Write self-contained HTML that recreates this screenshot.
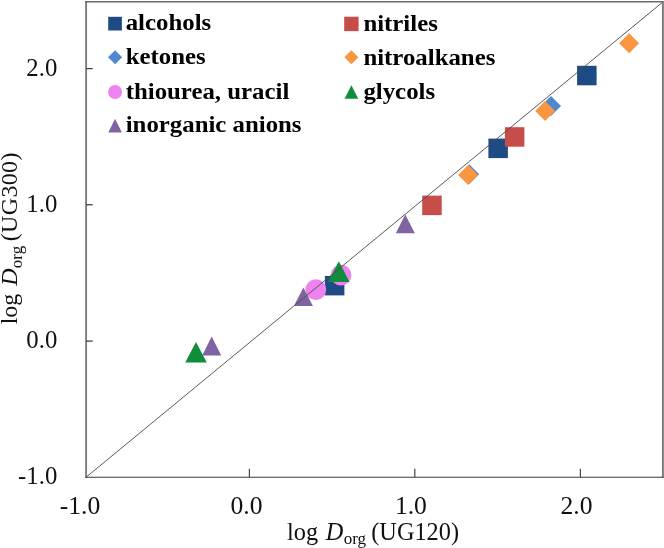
<!DOCTYPE html>
<html><head><meta charset="utf-8"><title>chart</title>
<style>
html,body{margin:0;padding:0;background:#fff;}
body{width:664px;height:548px;overflow:hidden;}
svg{display:block;}
#all{filter:blur(0.45px);}
text{font-family:"Liberation Serif",serif;fill:#111;}
.tk{font-size:24.75px;}
.tkx{font-size:25.6px;}
.tt{font-size:24.3px;}
.sub{font-size:17px;}
.lg{font-size:23.5px;font-weight:bold;fill:#000;}
</style></head>
<body>
<svg width="664" height="548" viewBox="0 0 664 548">
<rect width="664" height="548" fill="#ffffff"/>
<g id="all">
<g id="markers">
<rect x="324.9" y="275.9" width="19.5" height="19.5" fill="#1f4b84"/>
<rect x="488.4" y="138.6" width="19.5" height="19.5" fill="#1f4b84"/>
<rect x="577.1" y="65.8" width="19.5" height="19.5" fill="#1f4b84"/>
<rect x="422.2" y="195.6" width="19.5" height="19.5" fill="#c64d4a"/>
<rect x="504.9" y="127.2" width="19.5" height="19.5" fill="#c64d4a"/>
<polygon points="469.2,164.2 479.2,174.2 469.2,184.2 459.2,174.2" fill="#4f88d0"/>
<polygon points="551.0,96.0 561.0,106.0 551.0,116.0 541.0,106.0" fill="#4f88d0"/>
<polygon points="468.2,165.1 478.2,175.1 468.2,185.1 458.2,175.1" fill="#fa9642"/>
<polygon points="545.1,101.1 555.1,111.1 545.1,121.1 535.1,111.1" fill="#fa9642"/>
<polygon points="629.1,33.2 639.1,43.2 629.1,53.2 619.1,43.2" fill="#fa9642"/>
<circle cx="315.8" cy="289.7" r="10.4" fill="#ee82ee"/>
<circle cx="341.0" cy="275.2" r="10.4" fill="#ee82ee"/>
<polygon points="211.7,336.5 221.2,355.6 202.2,355.6" fill="#8064a2"/>
<polygon points="303.4,287.5 312.9,306.1 293.9,306.1" fill="#8064a2"/>
<polygon points="405.3,214.4 414.8,233.3 395.8,233.3" fill="#8064a2"/>
<polygon points="196.0,341.9 206.8,362.4 185.2,362.4" fill="#0f8c3c"/>
<polygon points="338.8,261.3 349.6,282.0 328.1,282.0" fill="#0f8c3c"/>
</g>
<g id="diag"><line x1="86.1" y1="477.2" x2="662.1" y2="2.6" stroke="#505050" stroke-width="0.95"/></g>
<g id="axes">
<line x1="86.1" y1="0.8999999999999999" x2="86.1" y2="477.8" stroke="#7d7d7d" stroke-width="1.9"/>
<line x1="85.19999999999999" y1="1.7" x2="663.8" y2="1.7" stroke="#6a6a6a" stroke-width="1.6"/>
<line x1="662.9" y1="1.7" x2="662.9" y2="477.8" stroke="#777777" stroke-width="1.9"/>
<line x1="85.19999999999999" y1="477.3" x2="663.5" y2="477.3" stroke="#383838" stroke-width="1.1"/>
<line x1="249.4" y1="477.2" x2="249.4" y2="468.8" stroke="#4a4a4a" stroke-width="1.25"/>
<line x1="414.8" y1="477.2" x2="414.8" y2="468.8" stroke="#4a4a4a" stroke-width="1.25"/>
<line x1="580.4" y1="477.2" x2="580.4" y2="468.8" stroke="#4a4a4a" stroke-width="1.25"/>
<line x1="86.1" y1="341.1" x2="92.69999999999999" y2="341.1" stroke="#3c3c3c" stroke-width="1.25"/>
<line x1="86.1" y1="204.75" x2="92.69999999999999" y2="204.75" stroke="#3c3c3c" stroke-width="1.25"/>
<line x1="86.1" y1="68.6" x2="92.69999999999999" y2="68.6" stroke="#3c3c3c" stroke-width="1.25"/>
</g>
<g id="labels">
<text x="100.3" y="514.0" text-anchor="end" class="tkx">-1.0</text>
<text x="57.3" y="484.4" text-anchor="end" class="tk">-1.0</text>
<text x="262.5" y="514.0" text-anchor="end" class="tkx">0.0</text>
<text x="57.3" y="348.3" text-anchor="end" class="tk">0.0</text>
<text x="426.9" y="514.0" text-anchor="end" class="tkx">1.0</text>
<text x="57.3" y="212.0" text-anchor="end" class="tk">1.0</text>
<text x="592.5" y="514.0" text-anchor="end" class="tkx">2.0</text>
<text x="57.3" y="76.4" text-anchor="end" class="tk">2.0</text>
<text x="373" y="539.9" text-anchor="middle" class="tt">log<tspan dx="7.8" font-style="italic">D</tspan><tspan class="sub" dy="4.5" dx="0.3">org</tspan><tspan dy="-4.5" dx="5.2">(UG120)</tspan></text>
<text transform="translate(17.3,324.3) rotate(-90)" class="tt" style="font-size:24px">log<tspan dx="7.8" font-style="italic">D</tspan><tspan class="sub" dy="4.5" dx="0.3">org</tspan><tspan dy="-4.5" dx="4.6" letter-spacing="0.33">(UG300)</tspan></text>
</g>
<g id="legend">
<rect x="108.2" y="16.8" width="13.7" height="13.7" fill="#1f4b84"/>
<text transform="translate(125.7,30.4) scale(1.057,1)" class="lg">alcohols</text>
<polygon points="115.1,50.2 122.1,57.3 115.1,64.3 108.0,57.3" fill="#4f88d0"/>
<text transform="translate(125.7,64.4) scale(1.057,1)" class="lg">ketones</text>
<circle cx="115.1" cy="92.0" r="7.0" fill="#ee82ee"/>
<text transform="translate(125.7,98.8) scale(1.057,1)" class="lg">thiourea, uracil</text>
<polygon points="115.1,118.8 121.9,132.4 108.3,132.4" fill="#8064a2"/>
<text transform="translate(125.7,132.4) scale(1.057,1)" class="lg">inorganic anions</text>
<rect x="344.2" y="16.7" width="14.4" height="14.4" fill="#c64d4a"/>
<text transform="translate(363.4,30.799999999999997) scale(1.057,1)" class="lg">nitriles</text>
<polygon points="351.4,50.2 358.4,57.3 351.4,64.3 344.3,57.3" fill="#fa9642"/>
<text transform="translate(363.4,64.80000000000001) scale(1.057,1)" class="lg">nitroalkanes</text>
<polygon points="351.4,85.2 358.2,98.8 344.6,98.8" fill="#0f8c3c"/>
<text transform="translate(363.4,99.2) scale(1.057,1)" class="lg">glycols</text>
</g>
</g>
</svg>
</body></html>
